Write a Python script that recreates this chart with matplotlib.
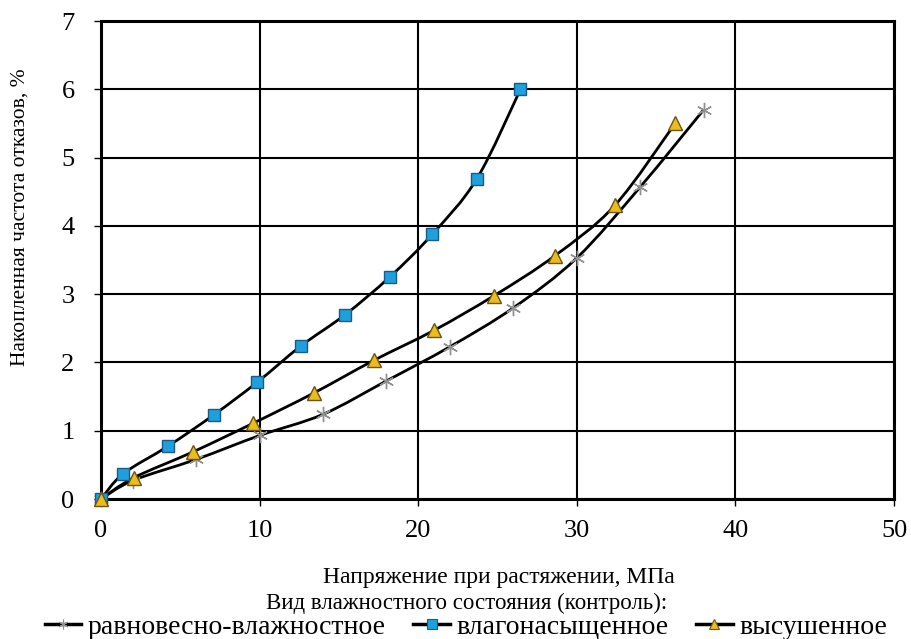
import numpy as np
import matplotlib.pyplot as plt
from matplotlib.path import Path
from matplotlib.patches import PathPatch
from matplotlib.lines import Line2D

plt.rcParams['font.family'] = ['Liberation Serif', 'DejaVu Serif']

# Напряжение при растяжении, МПа / накопленная частота отказов, %
x_equil = [0, 2.0, 6.0, 10.0, 14.0, 18.0, 22.0, 26.0, 30.0, 34.0, 38.0]
y_equil = [0, 0.27, 0.58, 0.93, 1.24, 1.73, 2.23, 2.80, 3.53, 4.57, 5.70]

x_wet = [0, 1.4, 4.2, 7.1, 9.85, 12.6, 15.4, 18.2, 20.9, 23.7, 26.45]
y_wet = [0, 0.37, 0.77, 1.23, 1.71, 2.24, 2.70, 3.25, 3.88, 4.69, 6.00]

x_dry = [0, 2.05, 5.8, 9.6, 13.4, 17.2, 21.0, 24.8, 28.6, 32.4, 36.2]
y_dry = [0, 0.31, 0.69, 1.11, 1.55, 2.03, 2.47, 2.98, 3.56, 4.30, 5.50]

labels = ['равновесно-влажностное', 'влагонасыщенное', 'высушенное']
x_ticks = [0, 10, 20, 30, 40, 50]
y_ticks = [0, 1, 2, 3, 4, 5, 6, 7]


def smooth_path(xs, ys, k=1/6):
    # сглаженная линия (кривые Безье через точки, как в Excel)
    p = np.column_stack([xs, ys]).astype(float)
    verts = [p[0]]
    codes = [Path.MOVETO]
    n = len(p)
    for i in range(n - 1):
        p0 = p[i - 1] if i > 0 else p[i]
        p3 = p[i + 2] if i + 2 < n else p[i + 1]
        c1 = p[i] + (p[i + 1] - p0) * k
        c2 = p[i + 1] - (p3 - p[i]) * k
        verts += [c1, c2, p[i + 1]]
        codes += [Path.CURVE4] * 3
    return Path(verts, codes)


fig = plt.figure(figsize=(9.11, 6.39), dpi=100)
ax = fig.add_axes([101 / 911, 140 / 639, 793 / 911, 478 / 639])

styles = [
    dict(marker=(6, 2, 0), mfc='#909090', mec='#909090'),
    dict(marker='s', mfc='#1ea0dc', mec='#1a5a8a'),
    dict(marker='^', mfc='#ecbc1c', mec='#6a5410'),
]
sizes = [11, 9, 10]
series = [(x_equil, y_equil), (x_wet, y_wet), (x_dry, y_dry)]

handles = []
for (xs, ys), st, ms, lab in zip(series, styles, sizes, labels):
    ax.add_patch(PathPatch(smooth_path(xs, ys), fill=False, ec='black',
                           lw=2.0, zorder=3))
    ax.plot(xs, ys, ls='none', ms=ms, mew=1.0, zorder=4, clip_on=False, **st)
    handles.append(Line2D([], [], color='black', lw=2.5, ms=7, mew=0.8, **st))

ax.set_xlim(0, 50)
ax.set_ylim(0, 7)
ax.set_xticks(x_ticks)
ax.set_yticks(y_ticks)
ax.grid(True, color='black', lw=1.5)
ax.set_axisbelow(True)
for s in ax.spines.values():
    s.set_linewidth(2.2)
    s.set_color('black')
ax.tick_params(axis='both', labelsize=19, length=5, width=1, direction='out',
               colors='black')
ax.tick_params(axis='x', pad=10)
ax.tick_params(axis='y', pad=14)

ax.set_xlabel('Напряжение при растяжении, МПа', fontsize=17, va='center')
ax.xaxis.set_label_coords(0.502, -0.165)
ax.set_ylabel('Накопленная частота отказов, %', fontsize=15.5, va='center')
ax.yaxis.set_label_coords(-0.102, 0.59)

fig.text(467 / 911, 1 - 603 / 639, 'Вид влажностного состояния (контроль):',
         fontsize=16.5, ha='center', va='center')
fig.legend(handles, labels, loc='center', bbox_to_anchor=(466 / 911, 1 - 627 / 639),
           ncol=3, frameon=False, fontsize=20, handlelength=1.3, handletextpad=0.25,
           columnspacing=1.0, borderpad=0, borderaxespad=0)

fig.savefig('out.png', dpi=100)
